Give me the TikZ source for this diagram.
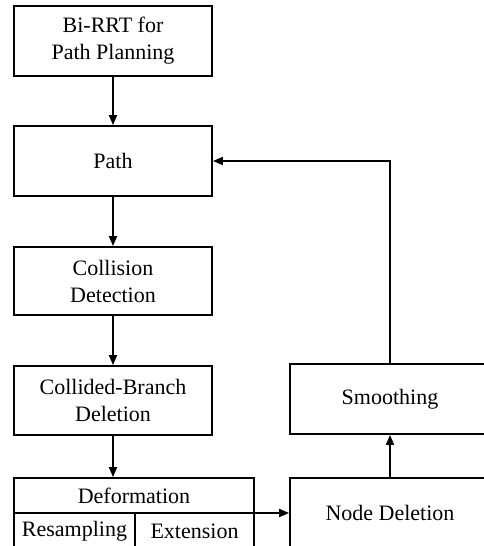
\documentclass[tikz,border=0pt]{standalone}
\usepackage{fontspec}
\setmainfont{Liberation Serif}
\usetikzlibrary{arrows.meta,positioning}
\begin{document}
\begin{tikzpicture}[x=1pt,y=1pt,
  every node/.style={font=\fontsize{22}{27}\selectfont},
  box/.style={draw, line width=1.8pt, align=center, minimum width=198pt, minimum height=70pt, inner sep=0pt},
  wbox/.style={draw, line width=1.8pt, align=center, minimum width=200pt, minimum height=70pt, inner sep=0pt},
  lbl/.style={inner sep=0pt},
  flow/.style={line width=1.8pt, -{Triangle[length=10pt,width=8pt]}},
  plain/.style={line width=1.8pt}]
\useasboundingbox (0,0) rectangle (484,-546);
\clip (0,0) rectangle (484,-546);
\node[box] (bi) at (113,-41) {Bi-RRT for\\Path Planning};
\node[box] (path) at (113,-161) {Path};
\node[box, minimum height=68pt] (coll) at (113,-281) {Collision\\Detection};
\node[box, minimum height=69pt] (cbd) at (113,-400.5) {Collided-Branch\\Deletion};
\node[draw, line width=1.8pt, minimum width=240pt, minimum height=70pt, inner sep=0pt] (def) at (134,-513) {};
\node[lbl] (deft) at (134,-495.5) {Deformation};
\coordinate (dl) at (14,-513);
\coordinate (dm) at (135,-513);
\coordinate (db) at (135,-548);
\draw[plain] (dl) -- (def.east);
\draw[plain] (dm) -- (db);
\node[lbl] (res) at (74.5,-531) {Resampling};
\node[lbl] (ext) at (194.5,-531) {Extension};
\node[wbox] (smooth) at (390,-399) {Smoothing};
\node[wbox] (nd) at (390,-513) {Node Deletion};
\draw[flow] (bi) -- (path);
\draw[flow] (path) -- (coll);
\draw[flow] (coll) -- (cbd);
\draw[flow] (cbd.south) -- (cbd.south |- def.north);
\draw[flow] (def.east) -- (nd.west);
\draw[flow] (nd) -- (smooth);
\draw[flow] (smooth.north) |- (path.east);
\end{tikzpicture}
\end{document}
